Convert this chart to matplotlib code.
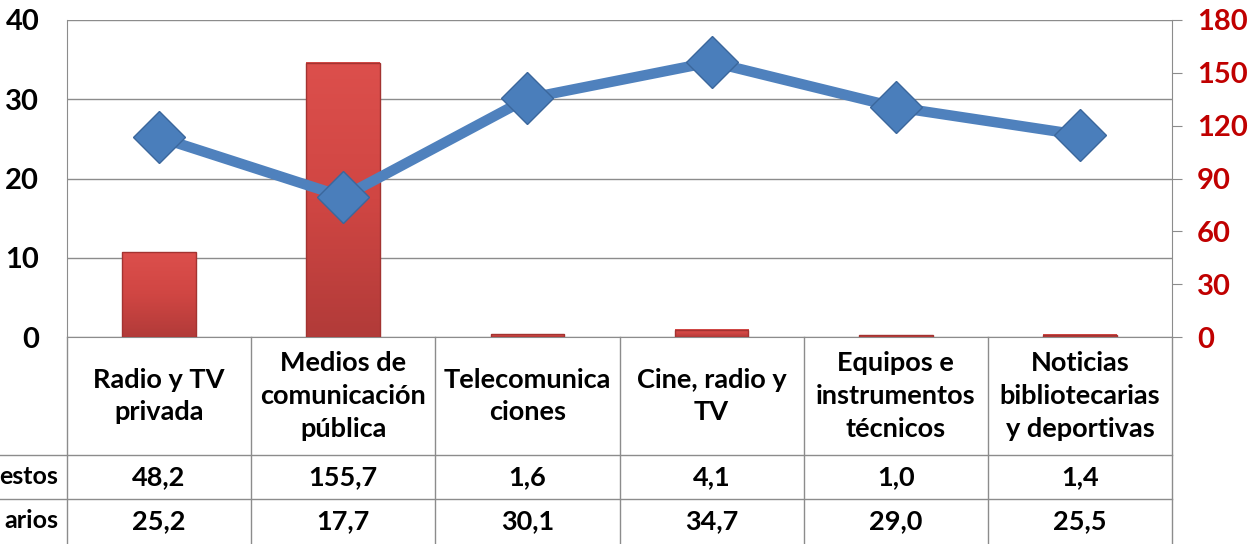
import numpy as np
import matplotlib
matplotlib.use("Agg")
import matplotlib.pyplot as plt
from matplotlib.lines import Line2D
from matplotlib.patches import Rectangle
from matplotlib.colors import LinearSegmentedColormap

categories = ["Radio y TV\nprivada", "Medios de\ncomunicación\npública",
              "Telecomunica\nciones", "Cine, radio y\nTV",
              "Equipos e\ninstrumentos\ntécnicos", "Noticias\nbibliotecarias\ny deportivas"]
row_labels = ["estos", "arios"]
bar_values = [48.2, 155.7, 1.6, 4.1, 1.0, 1.4]     # right axis
line_values = [25.2, 17.7, 30.1, 34.7, 29.0, 25.5]  # left axis
bar_labels = ["48,2", "155,7", "1,6", "4,1", "1,0", "1,4"]
line_labels = ["25,2", "17,7", "30,1", "34,7", "29,0", "25,5"]
left_ticks = [0, 10, 20, 30, 40]
right_ticks = [0, 30, 60, 90, 120, 150, 180]

plt.rcParams['font.family'] = ['Lato', 'DejaVu Sans']
plt.rcParams['font.weight'] = 'bold'

W, H = 1259, 544
fig = plt.figure(figsize=(W/100, H/100), dpi=100)
L, R, T, B = 67, 1172, 20, 337
rect = [L/W, 1-B/H, (R-L)/W, (B-T)/H]
grey = '#8C8C8C'
fs = 19.5
fst = 21

ax = fig.add_axes(rect)
n = len(categories)
x = np.arange(n)
ax.set_xlim(-0.5, n-0.5)
ax.set_ylim(0, 40)
ax.set_yticks(left_ticks)
ax.set_xticks([])
ax.grid(axis='y', color=grey, lw=1)
ax.set_axisbelow(True)
ax.tick_params(axis='y', length=0, pad=20, labelsize=fst)
for s in ['top', 'right']:
    ax.spines[s].set_visible(False)
for s in ['left', 'bottom']:
    ax.spines[s].set_color(grey)

ax2 = ax.twinx()
ax2.set_ylim(0, 180)
ax2.set_yticks(right_ticks)
ax2.tick_params(axis='y', length=7, color=grey, pad=11, labelsize=fst, labelcolor='#C00000')
for s in ['top', 'left', 'bottom']:
    ax2.spines[s].set_visible(False)
ax2.spines['right'].set_color(grey)

bw = 0.4
grad = np.linspace(0, 1, 100).reshape(-1, 1)
cmap = LinearSegmentedColormap.from_list('r', ['#B23B39', '#D04643', '#DC4F4C'])
for xi, v in zip(x, bar_values):
    ax2.imshow(grad, extent=[xi-bw/2, xi+bw/2, 0, v], origin='lower', aspect='auto',
               cmap=cmap, zorder=2)
    ax2.add_patch(Rectangle((xi-bw/2, 0), bw, v, fill=False, ec='#A33331', lw=1, zorder=3))
ax2.set_xlim(-0.5, n-0.5)

ax3 = fig.add_axes(rect)
ax3.set_xlim(-0.5, n-0.5)
ax3.set_ylim(0, 40)
ax3.axis('off')
ax3.patch.set_visible(False)
ax3.plot(x, line_values, color='#4F81BD', lw=7.5, solid_capstyle='round', zorder=2, clip_on=False)
ax3.plot(x, line_values, ls='none', marker='D', markersize=26, mfc='#4A7EBB',
         mec='#3B679C', mew=1, zorder=3, clip_on=False)

# table
colw = (R-L)/n
def fx(px): return px/W
def fy(py): return 1-py/H
rows_y = [455, 499]
for yy in rows_y:
    fig.add_artist(Line2D([0, fx(R)], [fy(yy), fy(yy)], color=grey, lw=1))
for i in range(n+1):
    xx = L + i*colw
    fig.add_artist(Line2D([fx(xx), fx(xx)], [fy(B), 0], color=grey, lw=1))
for i, c in enumerate(categories):
    cx = L + (i+0.5)*colw
    fig.text(fx(cx), fy(396), c, ha='center', va='center', fontsize=fs,
             linespacing=1.45)
    fig.text(fx(cx), fy(477), bar_labels[i], ha='center', va='center', fontsize=fs)
    fig.text(fx(cx), fy(521), line_labels[i], ha='center', va='center', fontsize=fs)
fig.text(fx(58), fy(477), row_labels[0], ha='right', va='center', fontsize=18)
fig.text(fx(58), fy(521), row_labels[1], ha='right', va='center', fontsize=18)

fig.savefig('out.png', dpi=100)
